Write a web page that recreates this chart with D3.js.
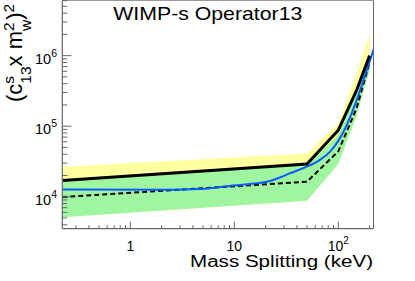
<!DOCTYPE html>
<html><head><meta charset="utf-8">
<script src="https://cdn.jsdelivr.net/npm/d3@7/dist/d3.min.js"></script>
<style>
html,body{margin:0;padding:0;background:#fff;}
svg{display:block;}
text{font-family:"Liberation Sans",Arial,Helvetica,sans-serif;fill:#000;}
</style></head>
<body>
<svg id="chart" width="415" height="281"></svg>
<script>
// ---- data ----
const massSplitting = [0.222, 50, 100, 150, 200];            // keV
const observed      = [16950, 29000, 87700, 323000, 1.0e6];
const expected      = [9900, 16300, 44000, 180000, 800000];
const oneSigmaLow   = [5120, 8780, 29000, 140000, 620000];
const oneSigmaHigh  = [16400, 28000, 75000, 300000, 950000];
const twoSigmaLow   = [5120, 8780, 29000, 140000, 620000];
const twoSigmaHigh  = [26700, 41100, 110000, 570000, 2.05e6];
const blueMass      = [0.222, 2.4, 4.6, 9, 14, 22, 27, 34, 48, 66, 83, 101, 218];
const blueLimit     = [12700, 12600, 12850, 14200, 15100, 16700, 18550, 21400, 26000, 33000, 43300, 63400, 1.22e6];
const xMajorTicks   = [1, 10, 100];
const xTickLabels   = [{base:"1", exp:""}, {base:"10", exp:""}, {base:"10", exp:"2"}];
const yMajorTicks   = [1e4, 1e5, 1e6];
const yTickExps     = ["4", "5", "6"];
const titleText     = "WIMP-s Operator13";
const xTitleText    = "Mass Splitting (keV)";

// ---- layout ----
const L = 62.3, R = 373.5, T = 0.5, B = 228.7;
const svg = d3.select("#chart");
const x = d3.scaleLog().domain([0.222, 218]).range([L, R]);
const y = d3.scaleLog().domain([3520, 6.05e6]).range([B, T]);

svg.append("defs").append("clipPath").attr("id","plotclip")
  .append("rect").attr("x",L).attr("y",T).attr("width",R-L).attr("height",B-T);
const plot = svg.append("g").attr("clip-path","url(#plotclip)");

const idx = massSplitting.map((d,i)=>i);
const area = (lo,hi) => d3.area().x(i=>x(massSplitting[i])).y0(i=>y(lo[i])).y1(i=>y(hi[i]));
plot.append("path").attr("d", area(twoSigmaLow, twoSigmaHigh)(idx)).attr("fill","#ffffa0");
plot.append("path").attr("d", area(oneSigmaLow, oneSigmaHigh)(idx)).attr("fill","#a0f5a0");

const line = (arr) => d3.line().x(i=>x(massSplitting[i])).y(i=>y(arr[i]));
plot.append("path").attr("d", line(expected)(idx)).attr("fill","none")
  .attr("stroke","#000").attr("stroke-width",2).attr("stroke-dasharray","5,3");
plot.append("path").attr("d", d3.line().x(i=>x(blueMass[i])).y(i=>y(blueLimit[i])).curve(d3.curveMonotoneX)(blueMass.map((d,i)=>i)))
  .attr("fill","none").attr("stroke","#0a5cff").attr("stroke-width",2);
plot.append("path").attr("d", line(observed)(idx)).attr("fill","none")
  .attr("stroke","#000").attr("stroke-width",3);

// ---- frame ----
const axisColor = "#666";
svg.append("line").attr("x1",L).attr("x2",R).attr("y1",T).attr("y2",T).attr("stroke","#999");
svg.append("line").attr("x1",R).attr("x2",R).attr("y1",T).attr("y2",B).attr("stroke",axisColor);
svg.append("line").attr("x1",L).attr("x2",R).attr("y1",B).attr("y2",B).attr("stroke",axisColor).attr("stroke-width",1.2);
svg.append("line").attr("x1",L).attr("x2",L).attr("y1",T).attr("y2",B).attr("stroke",axisColor).attr("stroke-width",1.2);

// x ticks
const xMinor = [];
[0.1,1,10,100].forEach(dec=>{ for(let k=2;k<=9;k++){ const v=dec*k; if(v>=0.222 && v<=218) xMinor.push(v);} });
svg.selectAll(".xminor").data(xMinor).enter().append("line")
  .attr("x1",d=>x(d)).attr("x2",d=>x(d)).attr("y1",B).attr("y2",B-3.5).attr("stroke",axisColor);
svg.selectAll(".xmajor").data(xMajorTicks).enter().append("line")
  .attr("x1",d=>x(d)).attr("x2",d=>x(d)).attr("y1",B).attr("y2",B-7).attr("stroke",axisColor);
const xl = svg.selectAll(".xlab").data(xMajorTicks).enter().append("text")
  .attr("x",d=>x(d)).attr("y",251).attr("text-anchor","middle").attr("font-size",14);
xl.append("tspan").text((d,i)=>xTickLabels[i].base);
xl.append("tspan").attr("font-size",10).attr("dy",-7).text((d,i)=>xTickLabels[i].exp);

// y ticks
const yMinor = [];
[1e3,1e4,1e5,1e6].forEach(dec=>{ for(let k=2;k<=9;k++){ const v=dec*k; if(v>=3520 && v<=6.05e6) yMinor.push(v);} });
svg.selectAll(".yminor").data(yMinor).enter().append("line")
  .attr("x1",L).attr("x2",L+5).attr("y1",d=>y(d)).attr("y2",d=>y(d)).attr("stroke",axisColor);
svg.selectAll(".ymajor").data(yMajorTicks).enter().append("line")
  .attr("x1",L).attr("x2",L+9).attr("y1",d=>y(d)).attr("y2",d=>y(d)).attr("stroke",axisColor);
const yl = svg.selectAll(".ylab").data(yMajorTicks).enter().append("text")
  .attr("x",57).attr("y",d=>y(d)+8).attr("text-anchor","end").attr("font-size",14.5);
yl.append("tspan").text("10");
yl.append("tspan").attr("font-size",10.5).attr("dy",-7).text((d,i)=>yTickExps[i]);

// titles
svg.append("text").attr("x",113.3).attr("y",20).attr("font-size",18.5)
  .attr("textLength",189).attr("lengthAdjust","spacingAndGlyphs").text(titleText);
svg.append("text").attr("x",373).attr("y",267).attr("font-size",16).attr("text-anchor","end")
  .attr("textLength",183).attr("lengthAdjust","spacingAndGlyphs").text(xTitleText);

// y title: (c^s_13 x m_w^2)^2
const yt = svg.append("g").attr("transform","translate(22,102) rotate(-90)");
const big = 22, small = 15.5;
let cx = 0;
function piece(t, size, dy){
  const el = yt.append("text").attr("x",cx).attr("y",dy).attr("font-size",size).text(t);
  return el.node().getComputedTextLength();
}
cx += piece("(", big, 0);
cx += piece("c", big, 0);
{ const a = piece("s", small, -8); const b = piece("13", small, 9); cx += Math.max(a,b); }
cx += piece(" x m", big, 0);
{ const a = piece("2", small, -8); const b = piece("w", small, 9); cx += Math.max(a,b); }
cx += piece(")", big, 0);
cx += piece("2", small, -8);
</script>
</body></html>
